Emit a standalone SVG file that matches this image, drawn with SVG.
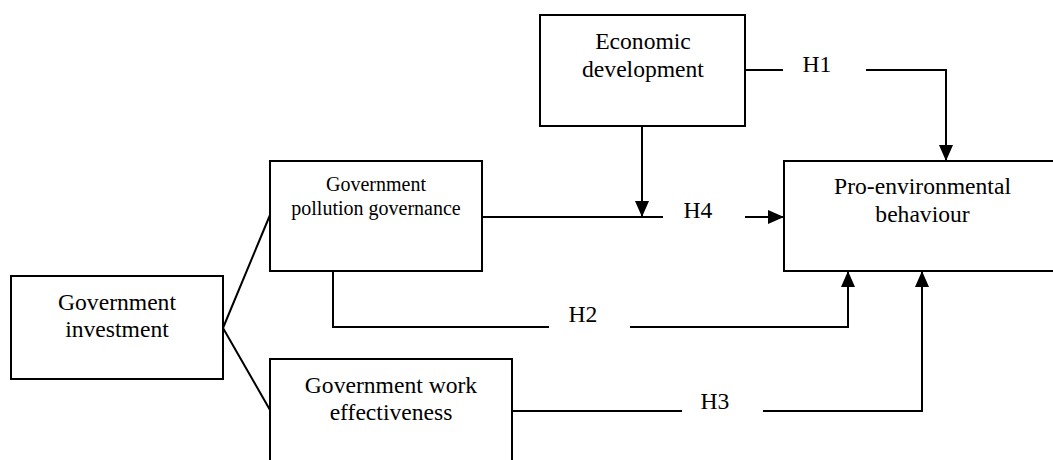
<svg xmlns="http://www.w3.org/2000/svg" width="1053" height="460" viewBox="0 0 1053 460">
<style>
.box{fill:#fff;stroke:#000;stroke-width:2}
.t{font-family:'Liberation Serif', 'DejaVu Serif', serif;fill:#000;text-anchor:middle}
.t24{font-size:23.6px}
.t20{font-size:20px}
.c{fill:none;stroke:#000;stroke-width:2}
</style>
<defs>
<marker id="ah" viewBox="0 0 16 14" refX="16" refY="7" markerWidth="16" markerHeight="14" markerUnits="userSpaceOnUse" orient="auto">
<path d="M0,0 L16,7 L0,14 z" fill="#000"/>
</marker>
</defs>
<rect width="1053" height="460" fill="#fff"/>
<g id="connectors">
<path class="c" d="M223,328 L270,215 M223,328 L270,410"/>
<path class="c" d="M745,70 L783,70"/>
<path class="c" d="M866,70 L946,70 L946,161" marker-end="url(#ah)"/>
<path class="c" d="M642,126 L642,217" marker-end="url(#ah)"/>
<path class="c" d="M482,217 L663,217"/>
<path class="c" d="M745,217 L784,217" marker-end="url(#ah)"/>
<path class="c" d="M333,271 L333,327 L549,327"/>
<path class="c" d="M630,327 L848,327 L848,271" marker-end="url(#ah)"/>
<path class="c" d="M512,411 L682,411"/>
<path class="c" d="M763,411 L922,411 L922,271" marker-end="url(#ah)"/>
<text class="t t24" x="817" y="72">H1</text>
<text class="t t24" x="698" y="218">H4</text>
<text class="t t24" x="583" y="322">H2</text>
<text class="t t24" x="715" y="409">H3</text>
</g>
<g id="economic">
<rect class="box" x="540" y="15" width="205" height="111"/>
<text class="t t24" x="643" y="49">Economic</text>
<text class="t t24" x="643" y="77">development</text>
</g>
<g id="pro-environmental">
<rect class="box" x="784" y="161" width="277" height="110"/>
<text class="t t24" x="922.5" y="194">Pro-environmental</text>
<text class="t t24" x="922.5" y="222">behaviour</text>
</g>
<g id="pollution">
<rect class="box" x="270" y="161" width="212" height="110"/>
<text class="t t20" x="376" y="191">Government</text>
<text class="t t20" x="376" y="215">pollution governance</text>
</g>
<g id="investment">
<rect class="box" x="11" y="276" width="212" height="103"/>
<text class="t t24" x="117" y="310">Government</text>
<text class="t t24" x="117" y="337">investment</text>
</g>
<g id="work">
<rect class="box" x="270" y="359" width="242" height="130"/>
<text class="t t24" x="391" y="393">Government work</text>
<text class="t t24" x="391" y="420">effectiveness</text>
</g>
</svg>
